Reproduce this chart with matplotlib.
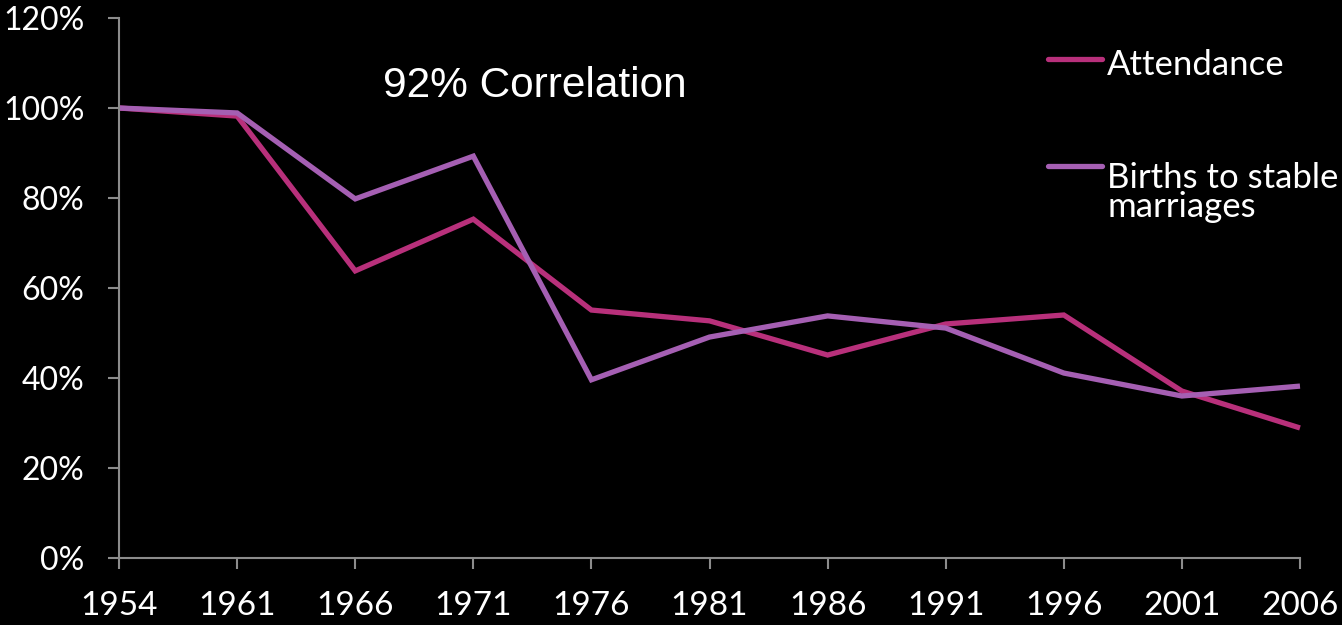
import matplotlib.pyplot as plt
import matplotlib
from matplotlib.lines import Line2D

matplotlib.rcParams['font.family'] = ['Lato', 'DejaVu Sans']

years = ['1954', '1961', '1966', '1971', '1976', '1981', '1986', '1991', '1996', '2001', '2006']
attendance = [100, 98.2, 63.8, 75.3, 55.1, 52.7, 45.1, 52.0, 54.0, 37.1, 28.9]
births_stable = [100, 98.9, 79.8, 89.3, 39.6, 49.1, 53.8, 51.1, 41.1, 36.0, 38.2]
y_ticks = [0, 20, 40, 60, 80, 100, 120]

att_color = '#B8307B'
birth_color = '#A55FB3'
axis_color = '#8C8C8C'

fig = plt.figure(figsize=(13.42, 6.25), dpi=100, facecolor='black')
ax = fig.add_axes([0.0887, 0.1072, 0.88, 0.864])
ax.set_facecolor('black')

x = list(range(len(years)))
ax.plot(x, attendance, color=att_color, linewidth=3.8, solid_capstyle='butt', solid_joinstyle='miter', clip_on=False)
ax.plot(x, births_stable, color=birth_color, linewidth=3.8, solid_capstyle='butt', solid_joinstyle='miter', clip_on=False)

ax.set_xlim(0, len(years) - 1)
ax.set_ylim(0, 120)
ax.set_xticks(x)
ax.set_xticklabels(years)
ax.set_yticks(y_ticks)
ax.set_yticklabels([f'{t}%' for t in y_ticks])

for side in ['top', 'right']:
    ax.spines[side].set_visible(False)
for side in ['left', 'bottom']:
    ax.spines[side].set_color(axis_color)
    ax.spines[side].set_linewidth(1.5)

ax.tick_params(axis='both', colors=axis_color, length=8, width=1.5, direction='out')
ax.tick_params(axis='x', labelcolor='white', labelsize=24, pad=16)
ax.tick_params(axis='y', labelcolor='white', labelsize=23, pad=17)

# 相关系数标注
fig.text(0.2854, 0.8448, '92% Correlation', color='white', fontsize=30.5,
         family='Liberation Sans', va='baseline', ha='left')

# 手工图例
fig.add_artist(Line2D([0.7809, 0.8212], [0.9056, 0.9056], color=att_color, linewidth=3.8,
                      solid_capstyle='round', transform=fig.transFigure))
fig.add_artist(Line2D([0.7809, 0.8212], [0.7344, 0.7344], color=birth_color, linewidth=3.8,
                      solid_capstyle='round', transform=fig.transFigure))
fig.text(0.8249, 0.880, 'Attendance', color='white', fontsize=25, va='baseline', ha='left')
fig.text(0.8249, 0.6992, 'Births to stable', color='white', fontsize=25, va='baseline', ha='left')
fig.text(0.8249, 0.6528, 'marriages', color='white', fontsize=25, va='baseline', ha='left')

fig.savefig('out.png', dpi=100, facecolor='black')
